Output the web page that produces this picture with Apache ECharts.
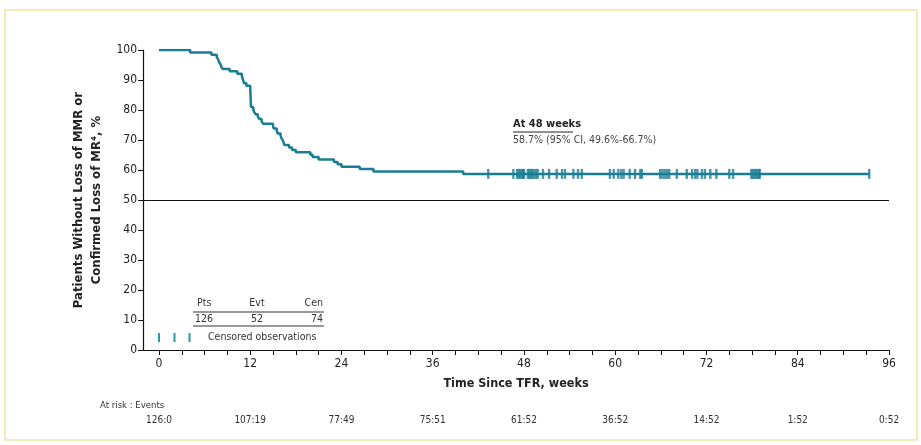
<!DOCTYPE html>
<html>
<head>
<meta charset="utf-8">
<script src="https://cdn.jsdelivr.net/npm/echarts@6/dist/echarts.min.js"></script>
<style>
html,body{margin:0;padding:0;background:#fff;}
#c{width:921px;height:445px;}
</style>
</head>
<body>
<div id="c"></div>
<script>
// ---- Data ----
const kmWeeks = [0, 4.1, 6.9, 7.6, 7.8, 7.9, 8.1, 8.2, 8.4, 9.3, 10.3, 10.9, 11.0, 11.1, 11.2, 11.5,
  12.0, 12.1, 12.4, 12.5, 12.7, 13.0, 13.2, 13.5, 13.7,
  15.0, 15.1, 15.5, 15.6, 16.0, 16.1, 16.3, 16.4, 16.5, 17.1, 17.5, 18.0,
  19.9, 20.2, 21.0, 23.0, 23.5, 24.0, 26.4, 28.2, 40.0, 93.4];
const kmPct = [100, 99.2, 98.4, 97.6, 96.8, 96.0, 95.2, 94.4, 93.7, 92.9, 92.1, 91.3, 90.5, 89.7, 88.9, 88.1,
  87.3, 81.0, 80.2, 79.4, 78.6, 77.8, 77.0, 76.2, 75.4,
  74.6, 73.8, 73.0, 72.2, 71.4, 70.6, 69.8, 69.0, 68.3, 67.5, 66.7, 65.9,
  65.1, 64.3, 63.5, 62.7, 61.9, 61.1, 60.3, 59.5, 58.7, 58.7];
const censorWeeks = [43.3, 46.6, 47.1, 47.3, 47.5, 47.7, 47.9, 48.0, 48.5, 48.7, 48.9, 49.1, 49.3, 49.6, 49.8,
  50.5, 51.3, 52.3, 53.0, 53.4, 54.5, 55.1, 55.6, 59.3, 59.8, 60.4, 60.8, 61.1, 61.9, 62.6, 63.3, 63.5,
  65.9, 66.2, 66.5, 66.8, 67.1, 68.1, 69.4, 70.1, 70.5, 70.8, 71.4, 71.8, 72.5, 73.3, 75.0, 75.5,
  77.9, 78.1, 78.3, 78.5, 78.7, 78.9, 79.0, 93.4];
const censorPct = 58.7;
const xTicks = [0, 3, 6, 9, 12, 15, 18, 21, 24, 27, 30, 33, 36, 39, 42, 45, 48, 51, 54, 57, 60, 63, 66, 69, 72, 75, 78, 81, 84, 87, 90, 93, 96];
const xLabels = [0, 12, 24, 36, 48, 60, 72, 84, 96];
const riskWeeks = [0, 12, 24, 36, 48, 60, 72, 84, 96];
const atRisk = [126, 107, 77, 75, 61, 36, 14, 1, 0];
const riskEvents = [0, 19, 49, 51, 52, 52, 52, 52, 52];
const refLevel = 50;
const summary = { pts: 126, evt: 52, cen: 74 };
const annotTitle = 'At 48 weeks';
const annotText = '58.7% (95% CI, 49.6%-66.7%)';

// ---- Styling ----
const FONT = "'Liberation Sans Narrow', 'DejaVu Sans Condensed', 'Liberation Sans', sans-serif";
const TEAL = '#1b7d93';
const TXT = '#222';

const kmData = kmWeeks.map((w, i) => [w, kmPct[i]]);
const censorData = censorWeeks.map(w => [w, censorPct]);

const chart = echarts.init(document.getElementById('c'), null, { renderer: 'canvas' });
chart.setOption({
  animation: false,
  backgroundColor: '#fff',
  grid: { left: 143, right: 32, top: 50, bottom: 95, containLabel: false },
  xAxis: [{
    type: 'value', min: -2.1, max: 96,
    axisLine: { show: true, onZero: false, lineStyle: { color: '#111', width: 1.2 } },
    axisTick: { show: true, customValues: xTicks, length: 5, lineStyle: { color: '#111', width: 1 } },
    axisLabel: { customValues: xLabels, color: TXT, fontFamily: FONT, fontSize: 12, margin: 8 },
    splitLine: { show: false },
    name: 'Time Since TFR, weeks', nameLocation: 'middle', nameGap: 27,
    nameTextStyle: { color: TXT, fontFamily: FONT, fontSize: 12.5, fontWeight: 'bold' }
  }, {
    type: 'value', min: -2.1, max: 96, position: 'bottom', offset: 58,
    axisLine: { show: false }, axisTick: { show: false }, splitLine: { show: false },
    axisLabel: {
      customValues: riskWeeks, margin: 7, color: '#333', fontFamily: FONT, fontSize: 10,
      formatter: v => { const i = riskWeeks.indexOf(v); return i >= 0 ? atRisk[i] + ':' + riskEvents[i] : ''; }
    }
  }],
  yAxis: {
    type: 'value', min: 0, max: 100, interval: 10,
    axisLine: { show: true, onZero: false, lineStyle: { color: '#111', width: 1.2 } },
    axisTick: { show: true, length: 5, lineStyle: { color: '#111' } },
    axisLabel: { color: TXT, fontFamily: FONT, fontSize: 12, margin: 6 },
    splitLine: { show: false },
    name: 'Patients Without Loss of MMR or\nConfirmed Loss of MR\u2074, %',
    nameLocation: 'middle', nameGap: 34,
    nameTextStyle: { color: TXT, fontFamily: FONT, fontSize: 13, fontWeight: 'bold', lineHeight: 18 }
  },
  series: [{
    type: 'line', step: 'end', data: kmData, xAxisIndex: 0,
    symbol: 'none',
    lineStyle: { color: TEAL, width: 2.5 },
    markLine: {
      silent: true, symbol: 'none', label: { show: false },
      lineStyle: { color: '#111', width: 1.2, type: 'solid' },
      data: [{ yAxis: refLevel }]
    },
    z: 3
  }, {
    type: 'scatter', data: censorData, xAxisIndex: 0,
    symbol: 'rect', symbolSize: [2.4, 10],
    itemStyle: { color: TEAL }, z: 4
  }],
  graphic: [
    { type: 'rect', shape: { x: 5, y: 10, width: 912, height: 430 },
      style: { fill: 'none', stroke: '#efe2a2', lineWidth: 1.5 }, silent: true },
    { type: 'text', left: 513, top: 119,
      style: { text: annotTitle, fill: '#222', font: "bold 11px " + FONT } },
    { type: 'line', shape: { x1: 513, y1: 132, x2: 573, y2: 132 }, style: { stroke: '#222', lineWidth: 1 } },
    { type: 'text', left: 513, top: 135,
      style: { text: annotText, fill: '#444', font: "10.5px " + FONT } },
    // summary table
    { type: 'text', x: 197, y: 303, style: { text: 'Pts', fill: '#333', font: "10.5px " + FONT, verticalAlign: 'middle' } },
    { type: 'text', x: 257, y: 303, style: { text: 'Evt', fill: '#333', font: "10.5px " + FONT, align: 'center', verticalAlign: 'middle' } },
    { type: 'text', x: 323, y: 303, style: { text: 'Cen', fill: '#333', font: "10.5px " + FONT, align: 'right', verticalAlign: 'middle' } },
    { type: 'line', shape: { x1: 193, y1: 312, x2: 324, y2: 312 }, style: { stroke: '#333', lineWidth: 1 } },
    { type: 'text', x: 195, y: 319, style: { text: String(summary.pts), fill: '#333', font: "10.5px " + FONT, verticalAlign: 'middle' } },
    { type: 'text', x: 257, y: 319, style: { text: String(summary.evt), fill: '#333', font: "10.5px " + FONT, align: 'center', verticalAlign: 'middle' } },
    { type: 'text', x: 323, y: 319, style: { text: String(summary.cen), fill: '#333', font: "10.5px " + FONT, align: 'right', verticalAlign: 'middle' } },
    { type: 'line', shape: { x1: 193, y1: 326, x2: 324, y2: 326 }, style: { stroke: '#333', lineWidth: 1 } },
    { type: 'rect', shape: { x: 158, y: 333, width: 2, height: 9 }, style: { fill: '#2a98a8' } },
    { type: 'rect', shape: { x: 173.5, y: 333, width: 2, height: 9 }, style: { fill: '#2a98a8' } },
    { type: 'rect', shape: { x: 188.5, y: 333, width: 2, height: 9 }, style: { fill: '#2a98a8' } },
    { type: 'text', x: 208, y: 337.5, style: { text: 'Censored observations', fill: '#333', font: "10.5px " + FONT, verticalAlign: 'middle' } },
    { type: 'text', x: 100, y: 406, style: { text: 'At risk : Events', fill: '#333', font: "9.5px " + FONT, verticalAlign: 'middle' } }
  ]
});
</script>
</body>
</html>
